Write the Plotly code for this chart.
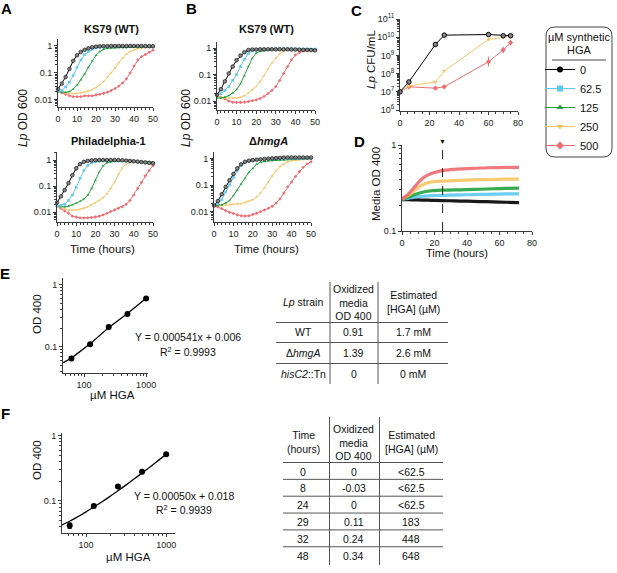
import plotly.graph_objects as go

W, H = 617, 573
FONT = "Arial, Liberation Sans, sans-serif"

# ---------------- data ----------------
hga_levels = ["0", "62.5", "125", "250", "500"]
colors = ["#000000", "#5ec8f2", "#22a33c", "#f8c563", "#ef6b70"]
symbols = ["circle", "square", "triangle-up", "triangle-down", "diamond"]

time_hours = [0, 2, 4, 6, 8, 10, 12, 14, 16, 18, 20, 22, 24, 26, 28, 30, 32, 34, 36, 38, 40, 42, 44, 46, 48, 50]

# Panel A, KS79 (WT)
a_wt_0 = [0.025, 0.04, 0.07, 0.14, 0.28, 0.45, 0.6, 0.72, 0.82, 0.9, 0.95, 0.97, 0.98, 0.99, 1.0, 1.0, 1.0, 1.0, 1.0, 1.0, 1.0, 1.0, 1.0, 0.99, 0.99, 0.98]
a_wt_62 = [0.02, 0.022, 0.03, 0.045, 0.08, 0.16, 0.3, 0.48, 0.62, 0.75, 0.85, 0.9, 0.93, 0.95, 0.96, 0.97, 0.98, 0.98, 0.98, 0.98, 0.98, 0.98, 0.98, 0.98, 0.98, 0.98]
a_wt_125 = [0.02, 0.019, 0.019, 0.02, 0.025, 0.035, 0.055, 0.09, 0.16, 0.28, 0.45, 0.62, 0.75, 0.82, 0.85, 0.86, 0.87, 0.88, 0.88, 0.89, 0.9, 0.9, 0.9, 0.91, 0.92, 0.93]
a_wt_250 = [0.02, 0.019, 0.018, 0.017, 0.017, 0.017, 0.018, 0.019, 0.021, 0.024, 0.028, 0.035, 0.048, 0.07, 0.1, 0.15, 0.24, 0.36, 0.5, 0.62, 0.72, 0.8, 0.85, 0.88, 0.9, 0.9]
a_wt_500 = [0.02, 0.018, 0.016, 0.014, 0.013, 0.013, 0.013, 0.014, 0.014, 0.014, 0.015, 0.016, 0.017, 0.019, 0.022, 0.026, 0.032, 0.042, 0.06, 0.1, 0.18, 0.3, 0.4, 0.48, 0.58, 0.7]

# Panel A, Philadelphia-1
a_ph_0 = [0.023, 0.04, 0.07, 0.13, 0.26, 0.48, 0.7, 0.85, 0.93, 0.97, 0.99, 1.0, 1.0, 1.0, 1.0, 1.0, 1.0, 0.98, 0.96, 0.93, 0.9, 0.87, 0.84, 0.81, 0.78, 0.75]
a_ph_62 = [0.017, 0.018, 0.02, 0.028, 0.045, 0.09, 0.2, 0.4, 0.62, 0.78, 0.87, 0.92, 0.95, 0.96, 0.97, 0.97, 0.96, 0.95, 0.93, 0.91, 0.89, 0.87, 0.85, 0.83, 0.81, 0.8]
a_ph_125 = [0.017, 0.016, 0.016, 0.017, 0.019, 0.022, 0.026, 0.032, 0.045, 0.08, 0.17, 0.35, 0.6, 0.78, 0.86, 0.89, 0.9, 0.9, 0.9, 0.9, 0.89, 0.88, 0.87, 0.86, 0.85, 0.84]
a_ph_250 = [0.017, 0.015, 0.013, 0.012, 0.012, 0.012, 0.013, 0.014, 0.016, 0.019, 0.023, 0.028, 0.036, 0.05, 0.08, 0.14, 0.28, 0.5, 0.7, 0.8, 0.85, 0.87, 0.88, 0.88, 0.87, 0.86]
a_ph_500 = [0.017, 0.014, 0.011, 0.009, 0.007, 0.0065, 0.006, 0.006, 0.006, 0.0062, 0.0065, 0.007, 0.0078, 0.009, 0.0105, 0.012, 0.014, 0.016, 0.02, 0.028, 0.045, 0.08, 0.14, 0.25, 0.4, 0.62]

# Panel B, KS79 (WT)
b_wt_0 = [0.017, 0.028, 0.055, 0.11, 0.2, 0.35, 0.52, 0.7, 0.85, 0.88, 0.88, 0.9, 0.9, 0.9, 0.9, 0.9, 0.9, 0.9, 0.9, 0.89, 0.88, 0.87, 0.86, 0.85, 0.84, 0.82]
b_wt_62 = [0.017, 0.019, 0.025, 0.035, 0.06, 0.1, 0.2, 0.38, 0.62, 0.78, 0.85, 0.88, 0.9, 0.9, 0.91, 0.92, 0.93, 0.93, 0.93, 0.93, 0.92, 0.92, 0.92, 0.92, 0.92, 0.92]
b_wt_125 = [0.013, 0.013, 0.014, 0.016, 0.02, 0.027, 0.045, 0.09, 0.2, 0.42, 0.65, 0.76, 0.8, 0.82, 0.84, 0.86, 0.87, 0.88, 0.89, 0.9, 0.9, 0.9, 0.9, 0.9, 0.9, 0.9]
b_wt_250 = [0.015, 0.014, 0.013, 0.013, 0.013, 0.013, 0.014, 0.016, 0.02, 0.026, 0.036, 0.055, 0.09, 0.16, 0.27, 0.42, 0.6, 0.78, 0.87, 0.9, 0.92, 0.94, 0.95, 0.95, 0.95, 0.95]
b_wt_500 = [0.016, 0.014, 0.012, 0.01, 0.009, 0.0088, 0.0088, 0.009, 0.0095, 0.0102, 0.011, 0.0125, 0.015, 0.019, 0.025, 0.035, 0.06, 0.11, 0.2, 0.36, 0.55, 0.68, 0.77, 0.8, 0.83, 0.85]

# Panel B, delta hmgA
b_hm_0 = [0.017, 0.025, 0.045, 0.085, 0.15, 0.26, 0.42, 0.6, 0.75, 0.82, 0.86, 0.89, 0.92, 0.95, 0.98, 1.0, 1.03, 1.05, 1.07, 1.08, 1.08, 1.08, 1.08, 1.08, 1.08, 1.08]
b_hm_62 = [0.017, 0.02, 0.028, 0.055, 0.1, 0.19, 0.35, 0.56, 0.7, 0.8, 0.86, 0.9, 0.92, 0.94, 0.95, 0.96, 0.97, 0.97, 0.98, 0.98, 0.98, 0.98, 0.98, 0.98, 0.98, 0.98]
b_hm_125 = [0.017, 0.017, 0.018, 0.021, 0.026, 0.04, 0.065, 0.11, 0.18, 0.3, 0.42, 0.6, 0.72, 0.78, 0.8, 0.82, 0.84, 0.86, 0.88, 0.9, 0.92, 0.94, 0.96, 0.97, 0.98, 1.0]
b_hm_250 = [0.017, 0.017, 0.018, 0.018, 0.018, 0.019, 0.019, 0.02, 0.022, 0.025, 0.028, 0.036, 0.05, 0.08, 0.13, 0.22, 0.35, 0.5, 0.62, 0.74, 0.82, 0.86, 0.88, 0.9, 0.91, 0.92]
b_hm_500 = [0.017, 0.015, 0.013, 0.011, 0.0095, 0.0085, 0.0075, 0.007, 0.0068, 0.007, 0.0078, 0.0087, 0.0098, 0.0115, 0.0133, 0.016, 0.021, 0.03, 0.05, 0.085, 0.13, 0.21, 0.32, 0.46, 0.62, 0.75]

# Panel C, CFU/mL
c_time = [0, 6, 24, 30, 60, 70, 75]
c_cfu_0 = [1.0e7, 3.5e7, 4.0e9, 1.3e10, 1.4e10, 1.2e10, 1.2e10]
c_cfu_250 = [1.0e7, 2.1e7, 3.5e7, 1.4e8, 7.6e9, 9.5e9, 1.3e10]
c_cfu_500 = [1.0e7, 1.9e7, 1.6e7, 1.9e7, 4.5e8, 2.0e9, 5.0e9]
c_err_500_plus = [0, 0, 0, 0, 4.0e8, 1.0e9, 2.0e9]
c_err_500_minus = [0, 0, 0, 0, 2.0e8, 7.0e8, 1.3e9]

# Panel D, media OD 400
d_time = [0, 4, 8, 12, 16, 20, 24, 32, 40, 48, 56, 64, 72]
d_od_0 = [0.232, 0.231, 0.23, 0.229, 0.228, 0.227, 0.226, 0.224, 0.222, 0.22, 0.218, 0.216, 0.214]
d_od_62 = [0.235, 0.24, 0.248, 0.253, 0.256, 0.258, 0.26, 0.262, 0.264, 0.266, 0.268, 0.27, 0.27]
d_od_125 = [0.235, 0.248, 0.265, 0.28, 0.29, 0.295, 0.298, 0.3, 0.303, 0.306, 0.31, 0.313, 0.315]
d_od_250 = [0.235, 0.26, 0.3, 0.34, 0.365, 0.375, 0.38, 0.385, 0.39, 0.395, 0.398, 0.4, 0.4]
d_od_500 = [0.235, 0.27, 0.33, 0.4, 0.45, 0.48, 0.5, 0.52, 0.53, 0.54, 0.545, 0.55, 0.55]
d_marker_time = 25

# Panel E, standard curve
e_hga = [62.5, 125, 250, 500, 1000]
e_od = [0.065, 0.11, 0.21, 0.34, 0.6]
e_fit_x = [46, 62.5, 125, 250, 500, 1000]
e_fit_y = [0.056, 0.066, 0.112, 0.205, 0.345, 0.61]
e_eq = "Y = 0.000541x + 0.006"
e_r2 = "R<sup>2</sup> = 0.9993"

# Panel F, standard curve
f_hga = [62.5, 125, 250, 500, 1000]
f_od = [0.042, 0.084, 0.166, 0.28, 0.52]
f_err = [0.004, 0, 0, 0, 0]
f_fit_x = [50, 62.5, 80, 100, 125, 160, 200, 250, 320, 400, 500, 640, 800, 1000]
f_fit_y = [0.043, 0.049, 0.058, 0.068, 0.081, 0.098, 0.118, 0.143, 0.178, 0.218, 0.268, 0.338, 0.418, 0.518]
f_eq = "Y = 0.00050x + 0.018"
f_r2 = "R<sup>2</sup> = 0.9939"

# Tables
e_header = ["<i>Lp</i> strain", "Oxidized<br>media<br>OD 400", "Estimated<br>[HGA] (µM)"]
e_strain = ["WT", "Δ<i>hmgA</i>", "<i>hisC2</i>::Tn"]
e_tab_od = ["0.91", "1.39", "0"]
e_tab_hga = ["1.7 mM", "2.6 mM", "0 mM"]

f_header = ["Time<br>(hours)", "Oxidized<br>media<br>OD 400", "Estimated<br>[HGA] (µM)"]
f_tab_time = ["0", "8", "24", "29", "32", "48"]
f_tab_od = ["0", "-0.03", "0", "0.11", "0.24", "0.34"]
f_tab_hga = ["&lt;62.5", "&lt;62.5", "&lt;62.5", "183", "448", "648"]

legend_title_lines = ["µM synthetic", "HGA"]

# ---------------- helpers ----------------
def px(x):
    return x / W

def py(y):
    return 1 - y / H

def dom_x(a, b):
    return [a / W, b / W]

def dom_y(top, bottom):
    return [1 - bottom / H, 1 - top / H]

AX = "#3a3a3a"

def log_minor(lo_exp, hi_exp):
    vals = []
    for e in range(lo_exp, hi_exp):
        for m in range(2, 10):
            vals.append(m * 10 ** e)
    return vals

def base_axis(**kw):
    d = dict(showline=True, linecolor=AX, linewidth=1, ticks="outside", tickcolor=AX,
             ticklen=3, tickwidth=1, showgrid=False, zeroline=False,
             tickfont=dict(size=9, family=FONT, color="#222"))
    d.update(kw)
    return d

fig = go.Figure()

growth_panels = [
    ("x", "y", [a_wt_0, a_wt_62, a_wt_125, a_wt_250, a_wt_500]),
    ("x2", "y2", [a_ph_0, a_ph_62, a_ph_125, a_ph_250, a_ph_500]),
    ("x3", "y3", [b_wt_0, b_wt_62, b_wt_125, b_wt_250, b_wt_500]),
    ("x4", "y4", [b_hm_0, b_hm_62, b_hm_125, b_hm_250, b_hm_500]),
]
for xa, ya, series in growth_panels:
    for i in [4, 3, 2, 1, 0]:
        mk = dict(symbol=symbols[i], size=2.6, color=colors[i])
        if i == 0:
            mk = dict(symbol="circle", size=3.6, color="#888", line=dict(color="#111", width=0.7))
        fig.add_trace(go.Scatter(x=time_hours, y=series[i], mode="lines+markers", xaxis=xa, yaxis=ya,
                                 line=dict(color=colors[i], width=1), marker=mk,
                                 showlegend=False, cliponaxis=False, hoverinfo="skip"))

# Panel C
fig.add_trace(go.Scatter(x=c_time, y=c_cfu_500, mode="lines+markers", xaxis="x5", yaxis="y5",
                         line=dict(color=colors[4], width=1), marker=dict(symbol="diamond", size=4, color=colors[4]),
                         error_y=dict(type="data", array=c_err_500_plus, arrayminus=c_err_500_minus,
                                      color=colors[4], thickness=1, width=0),
                         showlegend=False, cliponaxis=False))
fig.add_trace(go.Scatter(x=c_time, y=c_cfu_250, mode="lines+markers", xaxis="x5", yaxis="y5",
                         line=dict(color=colors[3], width=1), marker=dict(symbol="triangle-down", size=4, color=colors[3]),
                         showlegend=False, cliponaxis=False))
fig.add_trace(go.Scatter(x=c_time, y=c_cfu_0, mode="lines+markers", xaxis="x5", yaxis="y5",
                         line=dict(color="#000", width=1), marker=dict(symbol="circle", size=4.5, color="#888", line=dict(color="#000", width=1)),
                         showlegend=False, cliponaxis=False))

# Panel D
for i, s in enumerate([d_od_0, d_od_62, d_od_125, d_od_250, d_od_500]):
    fig.add_trace(go.Scatter(x=d_time, y=s, mode="lines", xaxis="x6", yaxis="y6",
                             line=dict(color=colors[i], width=3.2, shape="spline"), opacity=0.9,
                             showlegend=False))

# Panel E
fig.add_trace(go.Scatter(x=e_fit_x, y=e_fit_y, mode="lines", xaxis="x7", yaxis="y7",
                         line=dict(color="#000", width=1.3), showlegend=False))
fig.add_trace(go.Scatter(x=e_hga, y=e_od, mode="markers", xaxis="x7", yaxis="y7",
                         marker=dict(color="#000", size=6), showlegend=False, cliponaxis=False))
# Panel F
fig.add_trace(go.Scatter(x=f_fit_x, y=f_fit_y, mode="lines", xaxis="x8", yaxis="y8",
                         line=dict(color="#000", width=1.3, shape="spline"), showlegend=False))
fig.add_trace(go.Scatter(x=f_hga, y=f_od, mode="markers", xaxis="x8", yaxis="y8",
                         marker=dict(color="#000", size=6),
                         error_y=dict(type="data", array=f_err, color="#000", thickness=1, width=2),
                         showlegend=False, cliponaxis=False))

# Legend entries
for i in range(5):
    fig.add_trace(go.Scatter(x=[None], y=[None], mode="lines+markers", xaxis="x5", yaxis="y5",
                             name=hga_levels[i], line=dict(color=colors[i], width=1),
                             marker=dict(symbol=symbols[i], size=6, color=colors[i]),
                             showlegend=True))

# ---------------- axes ----------------
growth_x = dict(range=[0, 50], tick0=0, dtick=10, minor=dict(ticks="outside", ticklen=2, dtick=2, tickcolor=AX))
growth_y = dict(type="log", tickvals=[0.01, 0.1, 1], ticktext=["0.01", "0.1", "1"],
                minor=dict(ticks="outside", ticklen=2, tickvals=log_minor(-3, 1), tickcolor=AX))

layout = dict(
    width=W, height=H, margin=dict(l=0, r=0, t=0, b=0, autoexpand=False),
    paper_bgcolor="white", plot_bgcolor="white",
    font=dict(family=FONT, color="#111"),
    xaxis=base_axis(domain=dom_x(58, 153), anchor="y", **growth_x),
    yaxis=base_axis(domain=dom_y(39, 107), anchor="x", range=[-2.27, 0.26], **growth_y),
    xaxis2=base_axis(domain=dom_x(57, 153), anchor="y2", **growth_x),
    yaxis2=base_axis(domain=dom_y(152, 222), anchor="x2", range=[-2.38, 0.31], **growth_y),
    xaxis3=base_axis(domain=dom_x(217, 315), anchor="y3", **growth_x),
    yaxis3=base_axis(domain=dom_y(42, 110), anchor="x3", range=[-2.34, 0.23], **growth_y),
    xaxis4=base_axis(domain=dom_x(214, 311), anchor="y4", **growth_x),
    yaxis4=base_axis(domain=dom_y(152, 222), anchor="x4", range=[-2.39, 0.24], **growth_y),
    xaxis5=base_axis(domain=dom_x(400, 518), anchor="y5", range=[0, 80], tick0=0, dtick=20,
                     minor=dict(ticks="outside", ticklen=2, dtick=5, tickcolor=AX)),
    yaxis5=base_axis(domain=dom_y(19, 111), anchor="x5", type="log", range=[5.95, 11.0],
                     tickvals=[1e6, 1e7, 1e8, 1e9, 1e10, 1e11],
                     ticktext=["10<sup>6</sup>", "10<sup>7</sup>", "10<sup>8</sup>", "10<sup>9</sup>", "10<sup>10</sup>", "10<sup>11</sup>"],
                     minor=dict(ticks="outside", ticklen=2, tickvals=log_minor(6, 11), tickcolor=AX)),
    xaxis6=base_axis(domain=dom_x(402, 532), anchor="y6", range=[0, 80], tick0=0, dtick=20,
                     minor=dict(ticks="outside", ticklen=2, dtick=5, tickcolor=AX)),
    yaxis6=base_axis(domain=dom_y(145, 231), anchor="x6", type="log", range=[-1, 0],
                     tickvals=[0.1, 1], ticktext=["0.1", "1"],
                     minor=dict(ticks="outside", ticklen=2, tickvals=log_minor(-1, 0), tickcolor=AX)),
    xaxis7=base_axis(domain=dom_x(63, 148), anchor="y7", type="log", range=[1.66, 3.03],
                     tickvals=[100, 1000], ticktext=["100", "1000"],
                     minor=dict(ticks="outside", ticklen=2, tickvals=log_minor(1, 3), tickcolor=AX)),
    yaxis7=base_axis(domain=dom_y(278, 373), anchor="x7", type="log", range=[-1.42, 0.11],
                     tickvals=[0.1, 1], ticktext=["0.1", "1"],
                     minor=dict(ticks="outside", ticklen=2, tickvals=log_minor(-2, 0), tickcolor=AX)),
    xaxis8=base_axis(domain=dom_x(62, 175), anchor="y8", type="log", range=[1.70, 3.11],
                     tickvals=[100, 1000], ticktext=["100", "1000"],
                     minor=dict(ticks="outside", ticklen=2, tickvals=log_minor(1, 3), tickcolor=AX)),
    yaxis8=base_axis(domain=dom_y(433, 533), anchor="x8", type="log", range=[-1.49, 0.04],
                     tickvals=[0.1, 1], ticktext=["0.1", "1"],
                     minor=dict(ticks="outside", ticklen=2, tickvals=log_minor(-2, 0), tickcolor=AX)),
    legend=dict(x=px(540), y=py(55), xanchor="left", yanchor="top", bgcolor="rgba(0,0,0,0)",
                borderwidth=0, font=dict(size=11, family=FONT, color="#111"),
                itemwidth=30, tracegroupgap=0),
)
fig.update_layout(**layout)

# ---------------- shapes ----------------
shapes = []
# dashed marker line in D
shapes.append(dict(type="line", xref="x6", yref="paper", x0=d_marker_time, x1=d_marker_time,
                   y0=py(231), y1=py(146), line=dict(color="#222", width=1, dash="dash")))
# legend box (rounded)
L, R, T, B, r = 546, 612, 27, 157, 9
path = (f"M {px(L + r)},{py(T)} L {px(R - r)},{py(T)} Q {px(R)},{py(T)} {px(R)},{py(T + r)} "
        f"L {px(R)},{py(B - r)} Q {px(R)},{py(B)} {px(R - r)},{py(B)} "
        f"L {px(L + r)},{py(B)} Q {px(L)},{py(B)} {px(L)},{py(B - r)} "
        f"L {px(L)},{py(T + r)} Q {px(L)},{py(T)} {px(L + r)},{py(T)} Z")
shapes.append(dict(type="path", xref="paper", yref="paper", path=path, line=dict(color="#444", width=1)))
shapes.append(dict(type="line", xref="paper", yref="paper", x0=px(552), x1=px(606), y0=py(60), y1=py(60),
                   line=dict(color="#444", width=1)))

TL = "#555"
# E table lines
for yl in [322.5, 342.5, 363.5]:
    shapes.append(dict(type="line", xref="paper", yref="paper", x0=px(276), x1=px(448), y0=py(yl), y1=py(yl),
                       line=dict(color=TL, width=1)))
for xl in [330, 378]:
    shapes.append(dict(type="line", xref="paper", yref="paper", x0=px(xl), x1=px(xl), y0=py(282), y1=py(384),
                       line=dict(color=TL, width=1)))
# F table lines
f_row_h = 16.85
for k in range(6):
    yl = 462.5 + k * f_row_h
    shapes.append(dict(type="line", xref="paper", yref="paper", x0=px(283), x1=px(443), y0=py(yl), y1=py(yl),
                       line=dict(color=TL, width=1)))
for xl in [329.5, 379.5]:
    shapes.append(dict(type="line", xref="paper", yref="paper", x0=px(xl), x1=px(xl), y0=py(417), y1=py(565),
                       line=dict(color=TL, width=1)))
fig.update_layout(shapes=shapes)

# ---------------- annotations ----------------
anns = []

def ann(x, y, text, size=11, bold=False, angle=0, xanchor="center", color="#111"):
    t = f"<b>{text}</b>" if bold else text
    anns.append(dict(x=px(x), y=py(y), xref="paper", yref="paper", text=t, showarrow=False,
                     font=dict(size=size, family=FONT, color=color), xanchor=xanchor, yanchor="middle",
                     textangle=angle))

# panel letters
for lab, x, y in [("A", 6, 9), ("B", 191, 9), ("C", 356, 10), ("D", 360, 142), ("E", 5, 273), ("F", 5, 413)]:
    ann(x, y, lab, size=15, bold=True, color="#000")

# growth titles
ann(111, 29, "KS79 (WT)", size=11, bold=True)
ann(108, 141, "Philadelphia-1", size=11, bold=True)
ann(266, 29, "KS79 (WT)", size=11, bold=True)
ann(268, 141, "Δ<i>hmgA</i>", size=11, bold=True)

# axis titles
ann(23, 118, "<i>Lp</i> OD 600", size=12, angle=-90)
ann(186, 118, "<i>Lp</i> OD 600", size=12, angle=-90)
ann(102, 249, "Time (hours)", size=11.5)
ann(266, 249, "Time (hours)", size=11.5)
ann(457, 253, "Time (hours)", size=11)
ann(371, 60, "<i>Lp</i> CFU/mL", size=11.5, angle=-90)
ann(376, 184, "Media OD 400", size=11.5, angle=-90)
ann(37, 314, "OD 400", size=11.5, angle=-90)
ann(37, 460, "OD 400", size=11.5, angle=-90)
ann(112, 395, "µM HGA", size=11.5)
ann(128, 557, "µM HGA", size=11.5)

# legend title
ann(579, 37, legend_title_lines[0], size=11)
ann(579, 50, legend_title_lines[1], size=11)

# arrow head at top of dashed line
anns.append(dict(x=d_marker_time, y=py(141), xref="x6", yref="paper", text="▼", showarrow=False,
                 font=dict(size=7, family=FONT, color="#111"), xanchor="center", yanchor="middle"))

# equations
ann(188, 337, e_eq, size=10.5)
ann(188, 351, e_r2, size=10.5)
ann(184, 496, f_eq, size=10.5)
ann(184, 509, f_r2, size=10.5)

# E table
e_cols = [303, 354, 413]
for j, h in enumerate(e_header):
    ann(e_cols[j], 302, h, size=10.5)
for i in range(len(e_strain)):
    yy = 331.5 + i * 21
    ann(e_cols[0], yy, e_strain[i], size=10.5)
    ann(e_cols[1], yy, e_tab_od[i], size=10.5)
    ann(e_cols[2], yy, e_tab_hga[i], size=10.5)

# F table
f_cols = [303, 354, 411]
for j, h in enumerate(f_header):
    ann(f_cols[j], 442, h, size=10.5)
for i in range(len(f_tab_time)):
    yy = 471.5 + i * f_row_h
    ann(f_cols[0], yy, f_tab_time[i], size=10.5)
    ann(f_cols[1], yy, f_tab_od[i], size=10.5)
    ann(f_cols[2], yy, f_tab_hga[i], size=10.5)

fig.update_layout(annotations=anns)

fig.write_html("out.html", config={"displayModeBar": False},
               post_script="document.body.style.margin='0px';")
